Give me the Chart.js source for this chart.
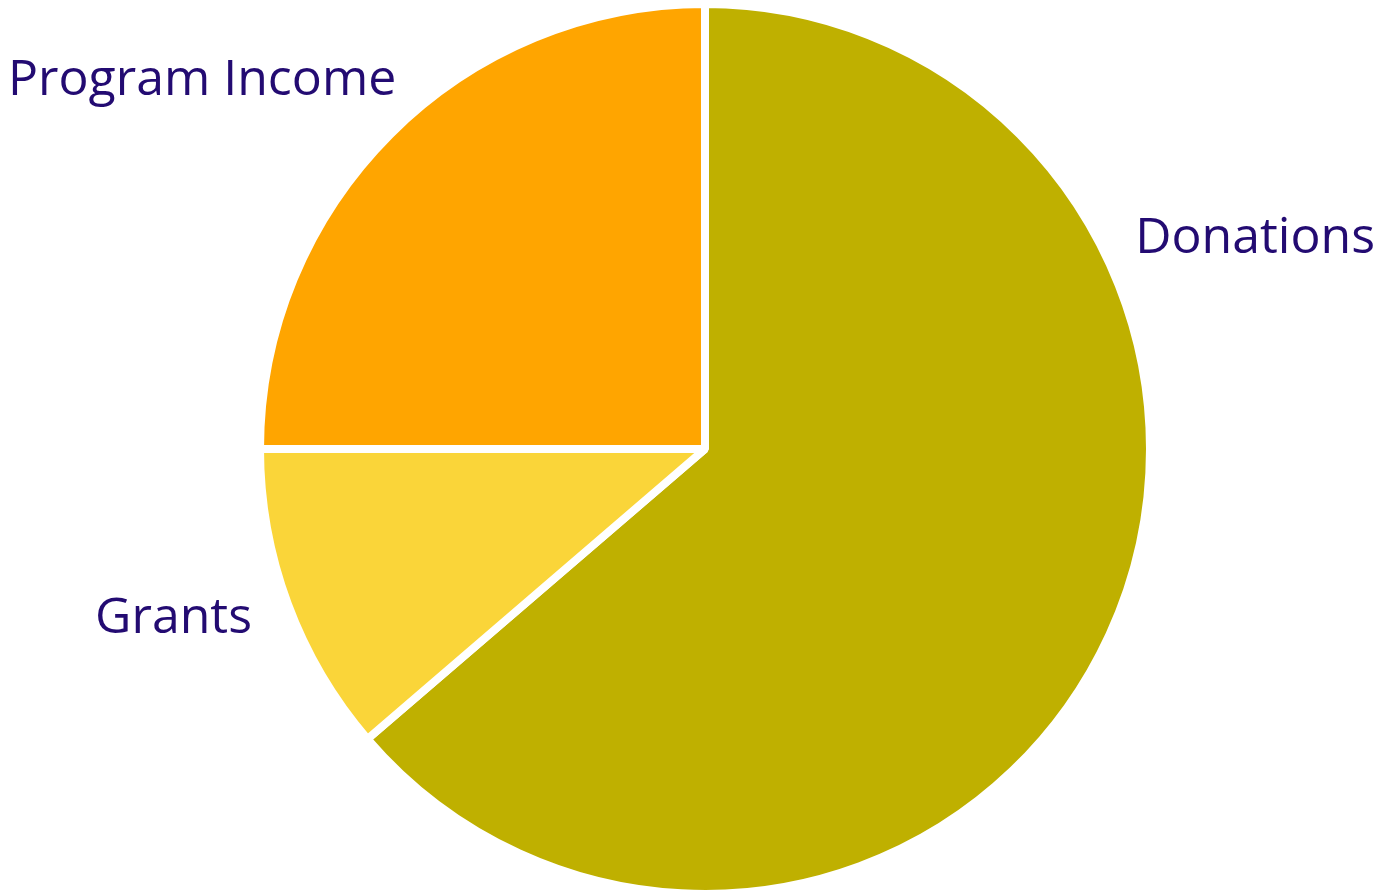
<!DOCTYPE html>
<html>
<head>
<meta charset="utf-8">
<script src="https://cdn.jsdelivr.net/npm/chart.js@4/dist/chart.umd.min.js"></script>
<style>
html,body{margin:0;padding:0;background:#fff;}
#wrap{width:1395px;height:892px;position:relative;}
</style>
</head>
<body>
<div id="wrap"><canvas id="c"></canvas></div>
<script>
const categories = ["Donations", "Grants", "Program Income"];
const values = [63.7, 11.3, 25];
const colors = ["#BFB000", "#FAD539", "#FFA500"];

const labelPlacement = {
  "Donations": {x: 1375, y: 253, align: "right"},
  "Grants": {x: 252, y: 633, align: "right"},
  "Program Income": {x: 8, y: 95, align: "left"}
};

const outsideLabels = {
  id: "outsideLabels",
  afterDraw(chart) {
    const ctx = chart.ctx;
    ctx.save();
    ctx.font = "50px 'Open Sans'";
    ctx.fillStyle = "#230B72";
    ctx.textBaseline = "alphabetic";
    chart.data.labels.forEach(l => {
      const p = labelPlacement[l];
      ctx.textAlign = p.align;
      ctx.fillText(l, p.x, p.y);
    });
    ctx.restore();
  }
};

new Chart(document.getElementById("c"), {
  type: "pie",
  data: {
    labels: categories,
    datasets: [{
      data: values,
      backgroundColor: colors,
      borderColor: "#ffffff",
      borderWidth: 8,
      hoverOffset: 0
    }]
  },
  options: {
    responsive: true,
    maintainAspectRatio: false,
    animation: false,
    radius: 445,
    layout: {padding: {top: 6, bottom: 0, left: 15, right: 0}},
    plugins: {legend: {display: false}, tooltip: {enabled: false}}
  },
  plugins: [outsideLabels]
});
</script>
</body>
</html>
